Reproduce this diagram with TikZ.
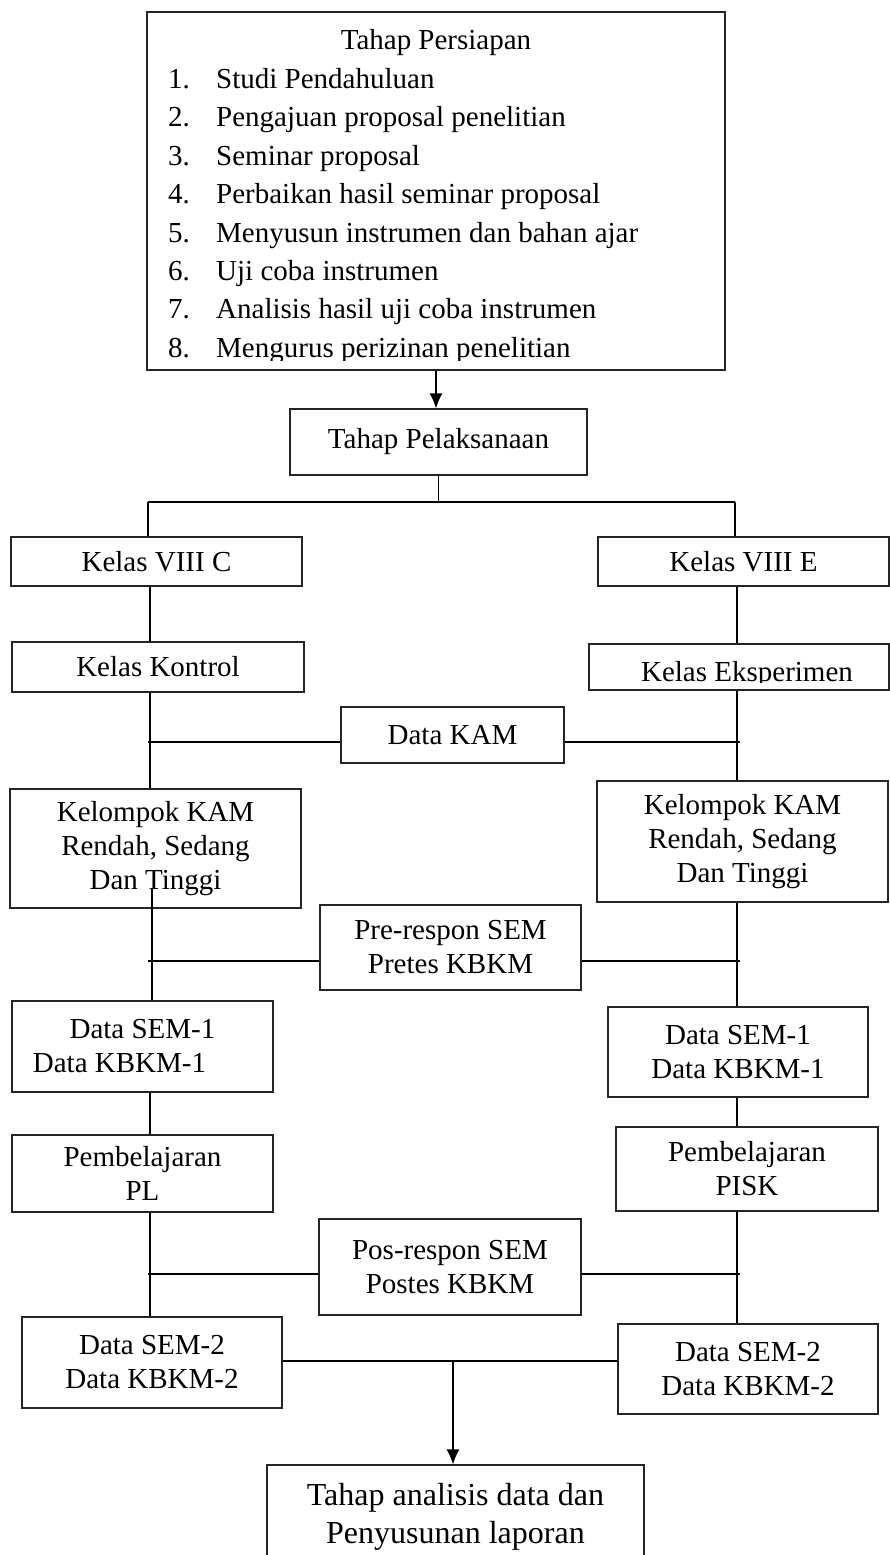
\documentclass[tikz,border=0pt]{standalone}
\usepackage{fontspec}
\setmainfont{Liberation Serif}
\usetikzlibrary{arrows.meta}

\begin{document}
\begin{tikzpicture}[x=1pt,y=-1pt,>={Latex[length=15pt,width=13pt]},
  kotak/.style={draw=black!85,line width=1.2pt,fill=white,align=center,inner sep=0pt,font=\fontsize{29}{34}\selectfont},
  tulisan/.style={inner sep=0pt,font=\fontsize{29}{34}\selectfont},
  garis/.style={line width=1.5pt},
  jalur/.style={line width=2.4pt}]
  \clip (0,0) rectangle (890,1555);

  % tahap persiapan
  \node[kotak,minimum width=578pt,minimum height=358pt] (persiapan) at (436,191) {};
  \begin{scope}
    \clip (persiapan.north west) rectangle ([yshift=10pt]persiapan.south east);
    \node[tulisan,anchor=base] (judul) at (436,50) {Tahap Persiapan};
    \foreach \i/\teks in {1/Studi Pendahuluan,2/Pengajuan proposal penelitian,3/Seminar proposal,
        4/Perbaikan hasil seminar proposal,5/Menyusun instrumen dan bahan ajar,6/Uji coba instrumen,
        7/Analisis hasil uji coba instrumen,8/Mengurus perizinan penelitian} {
      \node[tulisan,anchor=base west] (no\i) at (168,{50+38.4*\i}) {\i.};
      \node[tulisan,anchor=base west] (isi\i) at (216,{50+38.4*\i}) {\teks};
    }
  \end{scope}

  \node[kotak,minimum width=297pt,minimum height=66pt] (pelaksanaan) at (438.5,442) {Tahap Pelaksanaan};
  \draw[garis,->] (persiapan.south) -- (persiapan.south |- pelaksanaan.north);

  % dua kelas
  \node[kotak,minimum width=291pt,minimum height=49pt] (kelC) at (156.5,561.5) {Kelas VIII C};
  \node[kotak,minimum width=291pt,minimum height=49pt] (kelE) at (743.5,561.5) {Kelas VIII E};
  \coordinate (bagiKiri) at (148,502);
  \coordinate (bagiKanan) at (735,502);
  \draw[garis] (pelaksanaan.south) -- (pelaksanaan.south |- bagiKiri);
  \draw[jalur] (bagiKiri) -- (bagiKanan);
  \draw[garis] (bagiKiri) -- (bagiKiri |- kelC.north);
  \draw[garis] (bagiKanan) -- (bagiKanan |- kelE.north);

  \coordinate (kolL) at (150,0);
  \coordinate (kolR) at (737,0);

  \node[kotak,minimum width=292pt,minimum height=50pt] (kontrol) at (158,667) {Kelas Kontrol};
  \node[kotak,minimum width=300pt,minimum height=46pt] (eksperimen) at (739,667) {};
  \begin{scope}
    \clip (eksperimen.north west) rectangle ([yshift=8pt]eksperimen.south east);
    \node[tulisan,anchor=base] (eksTeks) at (747,681) {Kelas Eksperimen};
  \end{scope}
  \draw[garis] (kolL |- kelC.south) -- (kolL |- kontrol.north);
  \draw[garis] (kolR |- kelE.south) -- (kolR |- eksperimen.north);

  % KAM
  \node[kotak,minimum width=223pt,minimum height=56pt] (kam) at (452.5,735) {Data KAM};
  \node[kotak,minimum width=291pt,minimum height=119pt] (kelompokL) at (155.5,848.5) {Kelompok KAM\\Rendah, Sedang\\Dan Tinggi};
  \node[kotak,minimum width=291pt,minimum height=121pt] (kelompokR) at (742.5,841.5) {Kelompok KAM\\Rendah, Sedang\\Dan Tinggi};
  \coordinate (kamKiri) at (148,742);
  \coordinate (kamKanan) at (740,742);
  \draw[garis] (kolL |- kontrol.south) -- (kolL |- kelompokL.north);
  \draw[garis] (kolR |- eksperimen.south) -- (kolR |- kelompokR.north);
  \draw[jalur] (kamKiri) -- (kamKiri -| kam.west);
  \draw[jalur] (kamKanan -| kam.east) -- (kamKanan);

  % pretes
  \node[kotak,minimum width=261pt,minimum height=85pt] (pre) at (450.5,947.5) {Pre-respon SEM\\Pretes KBKM};
  \node[kotak,minimum width=261pt,minimum height=91pt] (sem1L) at (142.5,1046.5) {Data SEM-1\\Data KBKM-1\hspace*{46pt}};
  \node[kotak,minimum width=260pt,minimum height=90pt] (sem1R) at (738,1052) {Data SEM-1\\Data KBKM-1};
  \coordinate (masukL) at (152,889);
  \coordinate (preKiri) at (148,961);
  \coordinate (preKanan) at (740,961);
  \draw[garis] (masukL) -- (masukL |- sem1L.north);
  \draw[garis] (kolR |- kelompokR.south) -- (kolR |- sem1R.north);
  \draw[jalur] (preKiri) -- (preKiri -| pre.west);
  \draw[jalur] (preKanan -| pre.east) -- (preKanan);

  % pembelajaran
  \node[kotak,minimum width=261pt,minimum height=77pt] (plL) at (142.5,1173.5) {Pembelajaran\\PL};
  \node[kotak,minimum width=262pt,minimum height=84pt] (piskR) at (747,1169) {Pembelajaran\\PISK};
  \draw[garis] (kolL |- sem1L.south) -- (kolL |- plL.north);
  \draw[garis] (kolR |- sem1R.south) -- (kolR |- piskR.north);

  % postes
  \node[kotak,minimum width=262pt,minimum height=96pt] (pos) at (450,1267) {Pos-respon SEM\\Postes KBKM};
  \node[kotak,minimum width=260pt,minimum height=91pt] (sem2L) at (152,1362.5) {Data SEM-2\\Data KBKM-2};
  \node[kotak,minimum width=260pt,minimum height=90pt] (sem2R) at (748,1369) {Data SEM-2\\Data KBKM-2};
  \coordinate (posKiri) at (148,1274);
  \coordinate (posKanan) at (740,1274);
  \draw[garis] (kolL |- plL.south) -- (kolL |- sem2L.north);
  \draw[garis] (kolR |- piskR.south) -- (kolR |- sem2R.north);
  \draw[jalur] (posKiri) -- (posKiri -| pos.west);
  \draw[jalur] (posKanan -| pos.east) -- (posKanan);

  % analisis
  \node[kotak,minimum width=377pt,minimum height=104pt,font=\fontsize{32}{38}\selectfont] (analisis) at (455.5,1517) {Tahap analisis data dan\\Penyusunan laporan};
  \coordinate (hilir) at (453,1361);
  \draw[jalur] (sem2L.east |- hilir) -- (sem2R.west |- hilir);
  \draw[garis,->] (hilir) -- (hilir |- analisis.north);
\end{tikzpicture}
\end{document}
